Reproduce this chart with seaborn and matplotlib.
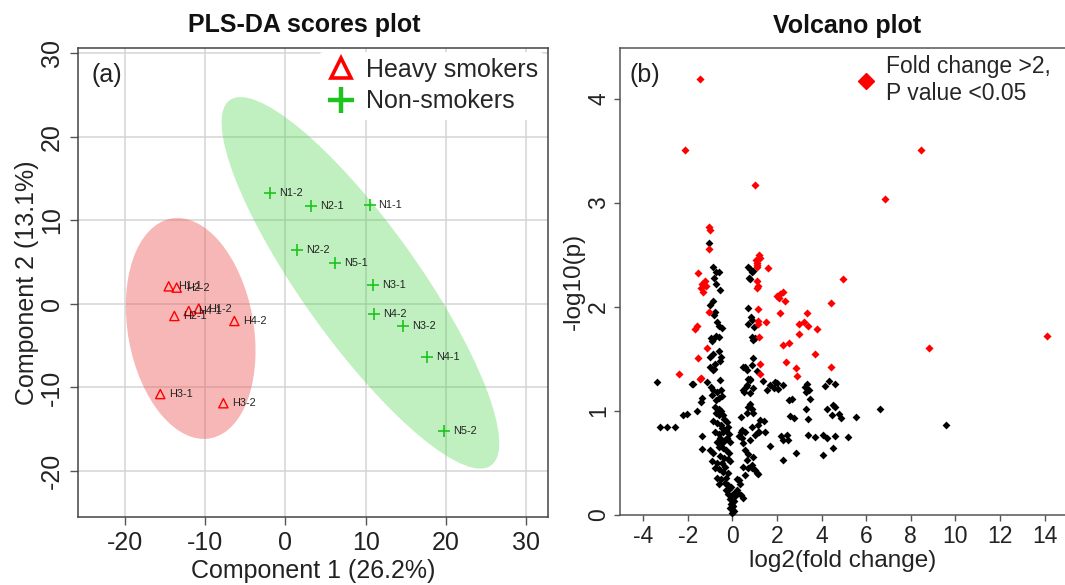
import numpy as np
import matplotlib
matplotlib.use("Agg")
import matplotlib.pyplot as plt
from matplotlib.patches import Ellipse
from matplotlib.lines import Line2D
import seaborn as sns

# ---------------- PLS-DA scores data ----------------
heavy_labels = ["H1-1", "H2-2", "H4-1", "H1-2", "H2-1", "H4-2", "H3-1", "H3-2"]
heavy_c1 = [-14.55, -13.55, -12.05, -10.8, -13.84, -6.36, -15.6, -7.73]
heavy_c2 = [2.1, 1.95, -0.85, -0.56, -1.45, -2.05, -10.8, -11.9]

non_labels = ["N1-2", "N2-1", "N1-1", "N2-2", "N5-1", "N3-1", "N4-2", "N3-2", "N4-1", "N5-2"]
non_c1 = [-1.9, 3.2, 10.5, 1.5, 6.15, 10.9, 11.0, 14.7, 17.7, 19.8]
non_c2 = [13.3, 11.7, 11.9, 6.5, 4.9, 2.3, -1.2, -2.6, -6.4, -15.2]

pls_ticks = [-20, -10, 0, 10, 20, 30]

# ---------------- Volcano data (log2 FC, -log10 p) ----------------
sig_points = [
    (-1.46, 4.19), (-2.14, 3.51), (1.02, 3.17), (8.45, 3.51), (6.82, 3.04),
    (-1.04, 2.77), (-1.02, 2.74), (-1.04, 2.56),
    (-1.53, 2.32), (-1.35, 2.22), (-1.25, 2.25), (-1.40, 2.18), (-1.30, 2.14), (-1.20, 2.20),
    (-1.05, 1.95), (-1.60, 1.82), (-1.70, 1.79), (-1.16, 1.60), (-1.56, 1.51), (-2.39, 1.35),
    (-1.46, 1.31), (-1.40, 1.32),
    (1.04, 2.45), (1.10, 2.42), (1.18, 2.50), (1.23, 2.47), (1.12, 2.38), (1.08, 2.40), (1.60, 2.37),
    (1.08, 2.25), (1.12, 2.18), (1.14, 2.20),
    (1.13, 1.98), (1.14, 1.86), (1.15, 1.83), (1.50, 1.85), (1.19, 1.71), (1.23, 1.45), (1.23, 1.35),
    (2.00, 2.10), (2.10, 2.08), (2.25, 2.14), (2.35, 2.06), (2.15, 2.12), (2.13, 1.94),
    (2.25, 1.63), (2.55, 1.65), (2.40, 1.47),
    (3.33, 1.94), (3.00, 1.83), (3.20, 1.85), (3.40, 1.82), (3.78, 1.79), (3.00, 1.74),
    (3.71, 1.55), (2.84, 1.41), (2.90, 1.34),
    (4.97, 2.27), (4.42, 2.04), (4.42, 1.42), (8.83, 1.60), (14.09, 1.72),
]

nonsig_points = [
    (-3.40, 1.28), (-3.25, 0.85), (-2.92, 0.85), (-2.58, 0.85), (-2.20, 0.96), (-2.05, 0.97),
    (-1.83, 1.26), (-1.78, 1.26), (-1.60, 1.00), (-1.43, 1.09), (-1.35, 1.12), (-1.38, 0.76), (-1.38, 0.63),
    (-1.04, 2.61), (-0.89, 2.38), (-0.75, 2.33), (-0.62, 2.33), (-0.82, 2.28), (-0.72, 2.22), (-0.56, 2.16),
    (-1.00, 2.02), (-0.85, 2.06), (-0.78, 1.95), (-0.82, 1.92),
    (-0.71, 1.85), (-0.60, 1.82), (-0.48, 1.80),
    (-0.98, 1.70), (-0.85, 1.69), (-0.75, 1.72), (-0.62, 1.71), (-0.90, 1.67),
    (-1.00, 1.52), (-0.88, 1.55), (-0.62, 1.58), (-0.50, 1.52), (-0.56, 1.48), (-0.78, 1.45),
    (-0.82, 1.40), (-1.00, 1.42), (-0.87, 1.39),
    (-0.56, 1.30), (-1.16, 1.28), (-0.98, 1.23), (-0.85, 1.20), (-0.70, 1.18), (-0.52, 1.20),
    (-0.48, 1.14), (-0.62, 1.12), (-0.90, 1.15), (-0.75, 1.10),
    (-0.78, 1.04), (-0.62, 1.02), (-0.50, 1.00), (-0.72, 0.98), (-0.41, 0.96), (-0.58, 0.96),
    (-0.87, 0.90), (-0.70, 0.88), (-0.52, 0.86), (-0.38, 0.92), (-0.25, 0.89), (-0.20, 0.85), (-0.45, 0.84),
    (-0.78, 0.80), (-0.60, 0.78), (-0.42, 0.80), (-0.30, 0.82), (-0.15, 0.78), (-0.55, 0.74),
    (-0.35, 0.72), (-0.10, 0.70), (-0.70, 0.70), (-0.48, 0.69), (-0.25, 0.74),
    (-1.00, 0.62), (-0.88, 0.60), (-0.62, 0.65), (-0.42, 0.64), (-0.30, 0.62), (-0.15, 0.60),
    (-0.55, 0.57), (-0.38, 0.55), (-0.22, 0.54), (-0.90, 0.52), (-0.70, 0.50), (-0.45, 0.50), (-0.11, 0.52),
    (-0.80, 0.45), (-0.60, 0.44), (-0.32, 0.46), (-0.40, 0.41), (-0.22, 0.40), (-0.70, 0.36),
    (-0.50, 0.35), (-0.28, 0.36), (-0.60, 0.30), (-0.35, 0.31), (-0.20, 0.29),
    (-0.30, 0.24), (-0.19, 0.20), (-0.15, 0.25), (-0.12, 0.15), (-0.08, 0.11), (-0.05, 0.18),
    (-0.03, 0.06), (0.00, 0.02), (0.03, 0.09), (0.05, 0.04), (-0.10, 0.07), (0.08, 0.13),
    (0.02, 0.20), (-0.05, 0.27), (0.00, 0.12), (0.10, 0.18), (0.14, 0.22),
    (0.19, 0.24), (0.26, 0.21), (0.34, 0.30), (0.30, 0.34), (0.46, 0.16), (0.38, 0.19), (0.21, 0.35),
    (0.56, 0.38), (0.71, 0.45), (0.48, 0.46), (0.64, 0.53), (0.86, 0.48), (1.08, 0.40), (1.13, 0.39),
    (0.93, 0.56), (0.71, 0.59), (0.56, 0.62), (0.48, 0.69), (0.78, 0.72), (1.01, 0.77), (0.41, 0.82),
    (0.86, 0.85), (0.56, 0.80), (1.23, 0.91), (0.93, 0.98), (0.71, 1.04), (1.16, 0.80), (1.46, 0.80),
    (0.78, 1.17), (0.48, 1.20), (0.64, 1.25), (0.78, 1.30), (1.08, 1.38), (0.71, 1.31), (0.86, 1.44),
    (0.48, 1.42), (1.01, 0.43), (0.90, 0.45), (1.68, 0.66), (1.13, 0.86), (1.43, 0.90), (1.20, 0.80),
    (0.38, 0.80), (0.30, 0.76), (0.45, 0.74), (0.40, 0.94), (0.64, 0.98), (0.86, 1.02), (0.81, 1.07),
    (0.60, 1.23), (0.91, 1.22), (0.50, 1.18), (0.81, 1.31),
    (0.71, 2.38), (0.80, 2.36), (0.88, 2.33), (0.93, 2.34), (0.80, 2.27), (0.75, 2.28),
    (0.71, 1.99), (0.85, 1.90), (0.71, 1.83), (0.96, 1.81), (0.90, 1.87),
    (0.86, 1.71), (0.92, 1.68), (1.00, 1.70),
    (0.92, 1.51), (0.58, 1.42), (0.64, 1.39),
    (1.38, 1.29), (1.53, 1.20), (1.68, 1.25), (1.85, 1.22), (2.05, 1.21), (1.90, 1.28), (1.98, 1.27),
    (2.27, 1.25),
    (3.33, 1.26), (3.42, 1.20), (3.50, 1.11), (3.30, 1.18), (3.25, 1.23),
    (4.15, 1.24), (4.35, 1.29), (4.60, 1.26),
    (2.55, 1.10), (2.65, 1.11), (2.58, 0.95), (2.76, 0.93),
    (3.30, 1.02), (3.37, 0.92),
    (4.22, 1.02), (4.50, 1.06), (4.62, 1.04), (4.78, 0.97), (5.52, 0.94), (4.86, 0.93), (4.45, 0.96),
    (6.63, 1.02), (9.57, 0.86),
    (2.20, 0.76), (2.28, 0.72), (2.43, 0.77), (2.48, 0.72), (2.28, 0.53), (3.37, 0.77), (3.70, 0.75),
    (4.07, 0.77), (4.24, 0.74), (4.60, 0.76), (5.19, 0.75), (4.52, 0.64), (4.07, 0.58), (2.85, 0.60),
]

volcano_xticks = [-4, -2, 0, 2, 4, 6, 8, 10, 12, 14]
volcano_yticks = [0, 1, 2, 3, 4]

sig_fc, sig_p = map(list, zip(*sig_points))
ns_fc, ns_p = map(list, zip(*nonsig_points))

# ---------------- Style ----------------
sns.set_theme(style="white")
plt.rcParams["font.family"] = ["Liberation Sans", "DejaVu Sans"]
plt.rcParams["axes.unicode_minus"] = False

RED = "#FF0000"
GREEN = "#1DC41D"
W, H = 1065, 585

fig = plt.figure(figsize=(W / 100, H / 100), dpi=100)

# ---------------- Left panel: PLS-DA ----------------
ax1 = fig.add_axes([77.9 / W, 1 - 516.8 / H, (548.2 - 77.9) / W, (516.8 - 47.8) / H])


def conf_ellipse(ax, x, y, color, alpha):
    x = np.asarray(x, float)
    y = np.asarray(y, float)
    cov = np.cov(x, y)
    vals, vecs = np.linalg.eigh(cov)
    order = vals.argsort()[::-1]
    vals, vecs = vals[order], vecs[:, order]
    angle = np.degrees(np.arctan2(vecs[1, 0], vecs[0, 0]))
    k = np.sqrt(-2 * np.log(0.05))
    w, h = 2 * k * np.sqrt(vals)
    ax.add_patch(Ellipse((x.mean(), y.mean()), w, h, angle=angle,
                         facecolor=color, alpha=alpha, edgecolor="none", zorder=1))


conf_ellipse(ax1, heavy_c1, heavy_c2, "#EE5555", 0.42)
conf_ellipse(ax1, non_c1, non_c2, "#3DD23D", 0.32)

sns.scatterplot(x=heavy_c1, y=heavy_c2, ax=ax1, marker="^", s=44,
                facecolor="none", edgecolor=RED, color=RED, linewidth=1.0, zorder=3)
sns.scatterplot(x=non_c1, y=non_c2, ax=ax1, marker="+", s=75,
                color=GREEN, linewidth=1.2, zorder=3)

for lbl, xv, yv in zip(heavy_labels, heavy_c1, heavy_c2):
    ax1.annotate(lbl, (xv, yv), xytext=(6.5, 0), textcoords="offset points",
                 fontsize=7.8, va="center", ha="left", color="#222222", zorder=4)
for lbl, xv, yv in zip(non_labels, non_c1, non_c2):
    ax1.annotate(lbl, (xv, yv), xytext=(6.5, 0), textcoords="offset points",
                 fontsize=7.8, va="center", ha="left", color="#222222", zorder=4)

ax1.set_xlim(-25.87, 32.77)
ax1.set_ylim(-25.5, 30.67)
ax1.set_xticks(pls_ticks)
ax1.set_yticks(pls_ticks)
ax1.grid(True, color="#d4d4d4", linewidth=1.1)
ax1.set_axisbelow(True)
for sp in ax1.spines.values():
    sp.set_color("#444444")
    sp.set_linewidth(1.1)
ax1.tick_params(axis="both", direction="out", length=6, width=1, color="#555555",
                labelsize=18, pad=4, labelcolor="#222222", left=True, bottom=True)
for lab in ax1.get_yticklabels():
    lab.set_rotation(90)
    lab.set_va("center")
ax1.set_xlabel("Component 1 (26.2%)", fontsize=18, color="#222222", labelpad=3)
ax1.set_ylabel("Component 2 (13.1%)", fontsize=18, color="#222222", labelpad=1)

handles = [
    Line2D([], [], marker="^", ls="", markerfacecolor="none", markeredgecolor=RED,
           markeredgewidth=2.6, markersize=15),
    Line2D([], [], marker="+", ls="", color=GREEN, markeredgewidth=3.2, markersize=19),
]
leg = ax1.legend(handles, ["Heavy smokers", "Non-smokers"], loc="upper right",
                 bbox_to_anchor=(1, 1), borderaxespad=0.15, frameon=True, facecolor="white",
                 edgecolor="none", framealpha=1, fontsize=18, handletextpad=0.35,
                 labelspacing=0.3, borderpad=0.25, handlelength=1.3)
leg.set_zorder(5)
ax1.text(0.028, 0.943, "(a)", transform=ax1.transAxes, fontsize=18, va="center",
         ha="left", color="#222222", zorder=6)

fig.text(304.5 / W, 1 - 25 / H, "PLS-DA scores plot", ha="center", va="center",
         fontsize=18, fontweight="bold", color="#111111")

# ---------------- Right panel: Volcano ----------------
ax2 = fig.add_axes([620 / W, 1 - 515 / H, (W - 620) / W, (515 - 48) / H])
sns.scatterplot(x=ns_fc, y=ns_p, ax=ax2, marker="D", s=16, color="black",
                linewidth=0, zorder=3, clip_on=False)
sns.scatterplot(x=sig_fc, y=sig_p, ax=ax2, marker="D", s=17, color=RED,
                linewidth=0, zorder=4, clip_on=False)
ax2.set_xlim(-5.04, (W - 732.5) / 22.3)
ax2.set_ylim(0, (515 - 48) / 104.1)
ax2.set_xticks(volcano_xticks)
ax2.set_yticks(volcano_yticks)
ax2.spines["right"].set_visible(False)
for name in ["left", "bottom", "top"]:
    ax2.spines[name].set_color("#555555")
    ax2.spines[name].set_linewidth(1.1)
ax2.tick_params(axis="both", direction="out", length=4, width=1, color="#555555",
                labelsize=16.5, pad=3, labelcolor="#222222", left=True, bottom=True)
for lab in ax2.get_yticklabels():
    lab.set_rotation(90)
    lab.set_va("center")
ax2.set_xlabel("log2(fold change)", fontsize=17.5, color="#222222", labelpad=2)
ax2.set_ylabel("-log10(p)", fontsize=17.5, color="#222222", labelpad=2)

vleg = ax2.legend([Line2D([], [], marker="D", ls="", color=RED, markersize=8)],
                  ["Fold change >2,\nP value <0.05"], loc="upper left",
                  bbox_to_anchor=((855 - 620) / (W - 620), (515 - 55) / (515 - 48)),
                  borderaxespad=0, borderpad=0, frameon=False, handlelength=1.0,
                  handletextpad=0.35, fontsize=16.5)
ax2.text(0.022, 0.942, "(b)", transform=ax2.transAxes, fontsize=18, va="center",
         ha="left", color="#222222")

fig.text(847 / W, 1 - 26 / H, "Volcano plot", ha="center", va="center",
         fontsize=18, fontweight="bold", color="#111111")

fig.savefig("out.png", dpi=100)
